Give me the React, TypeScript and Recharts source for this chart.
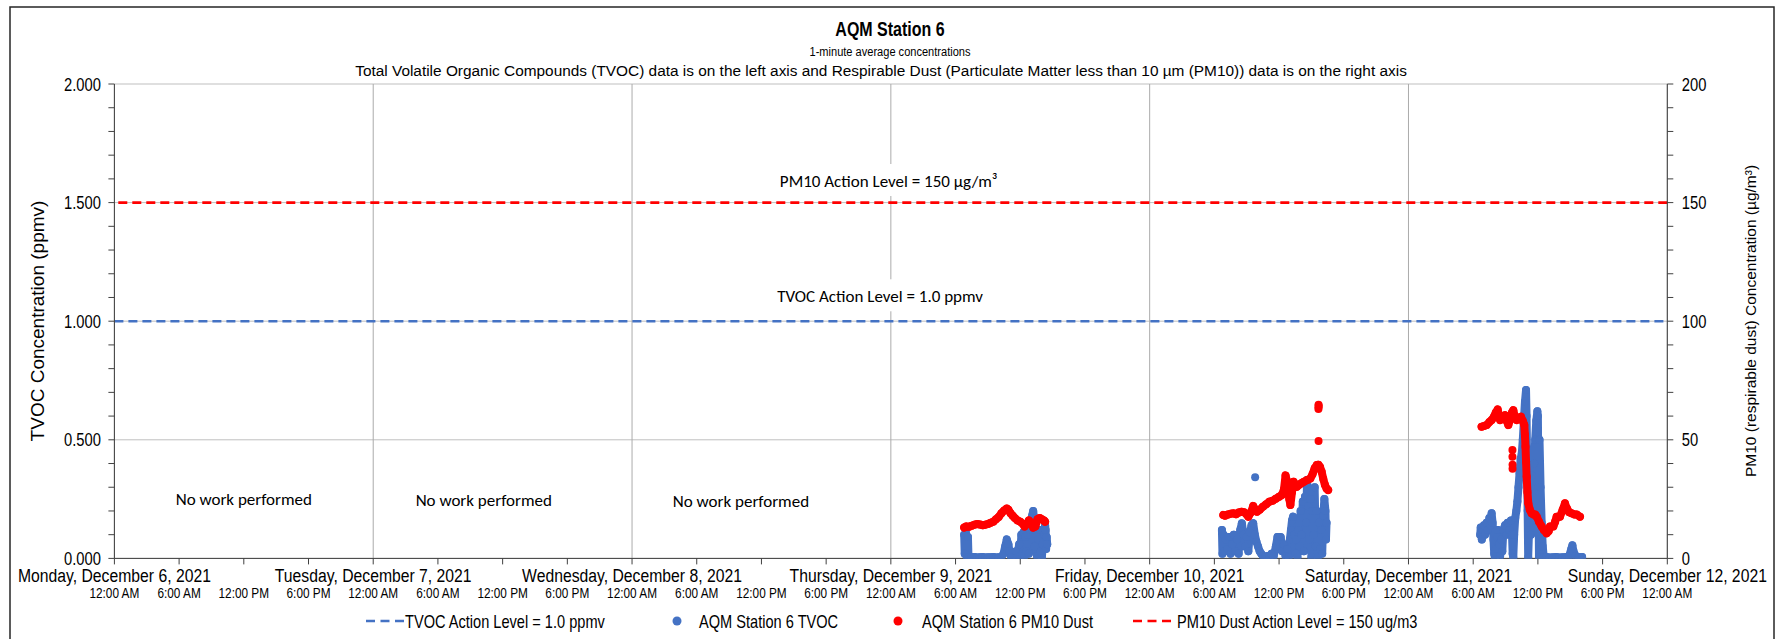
import React from "react";
import {
  CartesianGrid,
  ReferenceLine,
  Scatter,
  ScatterChart,
  XAxis,
  YAxis,
} from "recharts";

const W = 1776;
const H = 639;
const BLUE = "#4472C4";
const RED = "#FF0000";
const GRID_H = "#BFBFBF";
const GRID_V = "#ABABAB";
const AXIS = "#404040";
const FONT = "'Liberation Sans', Arial, sans-serif";
const NOTE_FONT = "Carlito, Calibri, Lato, sans-serif";
const NARROW = 0.82; // Arial Narrow look

// x axis: hours since Monday, December 6, 2021 12:00 AM
const hourTicks = [0, 6, 12, 18, 24, 30, 36, 42, 48, 54, 60, 66, 72, 78, 84, 90, 96, 102, 108, 114, 120, 126, 132, 138, 144];
const timeLabels = ["12:00 AM", "6:00 AM", "12:00 PM", "6:00 PM"];
const dayLabels = [
  "Monday, December 6, 2021",
  "Tuesday, December 7, 2021",
  "Wednesday, December 8, 2021",
  "Thursday, December 9, 2021",
  "Friday, December 10, 2021",
  "Saturday, December 11, 2021",
  "Sunday, December 12, 2021",
];
const dayGridLines = [24, 48, 72, 96, 120];

const tvocTicks = [0, 0.1, 0.2, 0.3, 0.4, 0.5, 0.6, 0.7, 0.8, 0.9, 1, 1.1, 1.2, 1.3, 1.4, 1.5, 1.6, 1.7, 1.8, 1.9, 2];
const pm10Ticks = [0, 10, 20, 30, 40, 50, 60, 70, 80, 90, 100, 110, 120, 130, 140, 150, 160, 170, 180, 190, 200];
const tvocGrid = [0, 0.5, 1, 1.5, 2];

const TVOC_ACTION = 1.0;
const PM10_ACTION = 150;

const THU = 72;
const FRI = 96;
const SAT = 120;

// [hour of day, value]
const thuTvoc: [number, number][] = [
  [6.8, 0.1], [6.85, 0.02], [6.95, 0.11], [7.05, 0.005], [7.15, 0.09], [7.2, 0.004],
  [7.5, 0.005], [7.75, 0.006], [8.0, 0.004], [8.25, 0.005], [8.5, 0.006], [8.75, 0.004],
  [9.0, 0.005], [9.25, 0.005], [9.5, 0.006], [9.75, 0.004], [10.0, 0.005], [10.25, 0.006],
  [10.45, 0.02], [10.6, 0.05], [10.75, 0.08], [10.9, 0.06], [11.0, 0.03], [11.15, 0.005],
  [11.4, 0.006], [11.6, 0.03], [11.7, 0.004], [11.9, 0.06], [12.0, 0.01], [12.1, 0.1],
  [12.2, 0.02], [12.3, 0.11], [12.4, 0.01], [12.5, 0.09], [12.6, 0.03], [12.7, 0.1],
  [12.8, 0.02], [12.9, 0.12], [13.0, 0.15], [13.1, 0.18], [13.2, 0.2], [13.3, 0.16],
  [13.35, 0.05], [13.45, 0.12], [13.55, 0.01], [13.7, 0.08], [13.8, 0.12], [13.9, 0.03],
  [14.0, 0.002], [14.1, 0.06], [14.2, 0.1], [14.3, 0.14], [14.35, 0.12], [14.4, 0.04],
  [14.45, 0.09], [14.5, 0.06],
];
const thuPm10: [number, number][] = [
  [6.8, 13], [7.0, 13.5], [7.25, 13.3], [7.5, 13.8], [7.75, 14.2], [8.0, 14.5], [8.25, 14.3],
  [8.5, 14.0], [8.75, 14.2], [9.0, 14.5], [9.25, 15.0], [9.5, 15.5], [9.75, 16.5], [10.0, 17.5],
  [10.25, 19], [10.5, 20.2], [10.75, 21], [10.9, 20.5], [11.1, 19], [11.3, 18], [11.5, 17],
  [11.75, 16], [12.0, 15.5], [12.25, 14.5], [12.4, 13.5], [12.6, 14.5], [12.8, 16], [13.0, 15],
  [13.2, 13], [13.4, 13.5], [13.6, 16.5], [13.8, 17], [14.0, 16.5], [14.2, 16], [14.3, 15.5],
];

const friTvoc: [number, number][] = [
  [6.7, 0.12], [6.75, 0.02], [6.85, 0.1], [6.95, 0.03], [7.05, 0.08], [7.2, 0.04], [7.35, 0.09],
  [7.5, 0.02], [7.65, 0.06], [7.8, 0.1], [7.95, 0.03], [8.1, 0.08], [8.25, 0.02], [8.4, 0.12],
  [8.55, 0.148], [8.7, 0.1], [8.85, 0.05], [9.0, 0.09], [9.15, 0.03], [9.3, 0.11], [9.45, 0.14],
  [9.6, 0.148], [9.75, 0.1], [9.9, 0.07], [10.05, 0.05], [10.2, 0.03], [10.35, 0.02], [10.5, 0.01],
  [10.7, 0.005], [10.9, 0.01], [11.1, 0.005], [11.3, 0.02], [11.5, 0.01], [11.7, 0.05], [11.85, 0.09],
  [12.0, 0.07], [12.15, 0.09], [12.3, 0.03], [12.45, 0.06], [12.6, 0.01], [12.75, 0.04], [12.9, 0.005],
  [13.0, 0.08], [13.1, 0.12], [13.2, 0.16], [13.3, 0.176], [13.4, 0.1], [13.5, 0.02], [13.6, 0.08],
  [13.7, 0.005], [13.8, 0.12], [13.9, 0.05], [14.0, 0.2], [14.1, 0.1], [14.2, 0.24], [14.3, 0.03],
  [14.4, 0.26], [14.5, 0.15], [14.6, 0.33], [14.7, 0.22], [14.8, 0.08], [14.9, 0.25], [15.0, 0.005],
  [15.1, 0.2], [15.2, 0.1], [15.3, 0.3], [15.4, 0.05], [15.5, 0.2], [15.6, 0.005], [15.7, 0.15],
  [15.8, 0.04], [15.9, 0.12], [16.0, 0.02], [16.1, 0.18], [16.2, 0.25], [16.3, 0.2], [16.35, 0.08],
  [16.4, 0.15],
];
const friTvocStray: [number, number][] = [[9.78, 0.342]];
const friPm10: [number, number][] = [
  [6.83, 18.3], [7.0, 18.0], [7.25, 18.5], [7.5, 18.8], [7.75, 19.0], [8.0, 18.6], [8.25, 19.3],
  [8.5, 19.7], [8.75, 19.5], [9.0, 18.5], [9.15, 17.6], [9.4, 19.5], [9.6, 22.1], [9.8, 20.5],
  [9.95, 19.7], [10.2, 20.5], [10.5, 21.8], [10.8, 22.8], [11.1, 23.9], [11.4, 24.3], [11.7, 25.2],
  [12.0, 26], [12.25, 26.7], [12.45, 29], [12.6, 35], [12.7, 33], [12.85, 28.8], [12.95, 25],
  [13.05, 22.5], [13.2, 28], [13.35, 32.3], [13.5, 31], [13.65, 30.2], [13.9, 31.2], [14.1, 31.8],
  [14.3, 32.3], [14.6, 33], [14.9, 33.7], [15.1, 35.5], [15.3, 38], [15.5, 39.4], [15.65, 39.5],
  [15.8, 38.5], [15.95, 36.5], [16.1, 33.5], [16.25, 31], [16.4, 29.5], [16.55, 28.8],
];
const friPm10Stray: [number, number][] = [
  [15.65, 63], [15.66, 63.7], [15.67, 64.4], [15.66, 64.8], [15.66, 49.5],
];

const satTvoc: [number, number][] = [
  [6.65, 0.1], [6.7, 0.13], [6.8, 0.08], [6.9, 0.12], [7.0, 0.14], [7.1, 0.1], [7.25, 0.15],
  [7.35, 0.12], [7.5, 0.17], [7.6, 0.14], [7.71, 0.19], [7.8, 0.15], [7.88, 0.08], [7.95, 0.02],
  [8.02, 0.0], [8.1, 0.04], [8.2, 0.09], [8.3, 0.12], [8.4, 0.06], [8.5, 0.01], [8.6, 0.08],
  [8.7, 0.03], [8.8, 0.12], [8.95, 0.14], [9.1, 0.1], [9.2, 0.15], [9.35, 0.12], [9.5, 0.16],
  [9.6, 0.1], [9.66, 0.02], [9.72, 0.005], [9.8, 0.1], [9.9, 0.17], [10.0, 0.2], [10.1, 0.24],
  [10.2, 0.3], [10.3, 0.36], [10.4, 0.42], [10.5, 0.44], [10.6, 0.5], [10.7, 0.58], [10.8, 0.66],
  [10.9, 0.71], [10.95, 0.6], [11.0, 0.4], [11.05, 0.2], [11.1, 0.005], [11.2, 0.15], [11.3, 0.3],
  [11.35, 0.1], [11.45, 0.35], [11.55, 0.2], [11.65, 0.4], [11.75, 0.5], [11.85, 0.58], [11.95, 0.62],
  [12.0, 0.6], [12.05, 0.3], [12.1, 0.005], [12.15, 0.5], [12.25, 0.3], [12.35, 0.15], [12.45, 0.05],
  [12.55, 0.005], [12.8, 0.006], [13.1, 0.004], [13.4, 0.005], [13.7, 0.006], [14.0, 0.004],
  [14.3, 0.005], [14.6, 0.006], [14.9, 0.01], [15.1, 0.04], [15.2, 0.055], [15.3, 0.03], [15.5, 0.01],
  [15.8, 0.005], [16.1, 0.006],
];
const satPm10: [number, number][] = [
  [6.78, 55.5], [7.0, 55.8], [7.25, 56.2], [7.5, 57.5], [7.71, 58.3], [7.9, 59.5], [8.1, 61.5],
  [8.27, 62.8], [8.4, 60], [8.5, 58.3], [8.7, 59.5], [8.95, 60.4], [9.1, 58], [9.26, 56.2],
  [9.45, 59], [9.6, 61.5], [9.72, 62.5], [9.85, 60], [10.03, 58.3], [10.2, 59], [10.43, 59.7],
  [10.6, 58], [10.74, 56.2], [10.8, 52], [10.85, 47.1], [10.9, 41], [10.96, 34.4], [11.03, 28],
  [11.11, 23.2], [11.25, 20.5], [11.42, 19.0], [11.6, 18.5], [11.75, 18.5], [11.89, 17.6],
  [12.1, 15.5], [12.35, 13.4], [12.55, 12], [12.81, 10.6], [13.0, 11.5], [13.12, 13.4],
  [13.43, 13.4], [13.6, 15.5], [13.74, 17.6], [13.9, 17.6], [14.05, 17.6], [14.3, 20.5],
  [14.51, 23.2], [14.7, 21], [14.9, 19.5], [15.13, 19.0], [15.4, 18.5], [15.6, 18.5], [15.9, 17.6],
];
const satPm10Stray: [number, number][] = [
  [9.64, 45.7], [9.64, 42.9], [9.65, 39.5], [9.65, 37.8],
];

// annotations
const noWorkHours = [12, 34.25, 58.1];
const noWorkLevels = [0.248, 0.244, 0.239];
const pm10NoteHour = 71.8;
const pm10NoteLevel = 159.1;
const tvocNoteHour = 71.0;
const tvocNoteLevel = 1.105;

const pts = (offset: number, rows: [number, number][]) =>
  rows.map(([h, v]) => ({ x: offset + h, y: v }));

const isMajor = (v: number, step: number) =>
  Math.abs(v / step - Math.round(v / step)) < 1e-6;

function NText({
  x,
  y,
  size,
  anchor = "middle",
  weight = "normal",
  scale = NARROW,
  children,
}: {
  x: number;
  y: number;
  size: number;
  anchor?: "start" | "middle" | "end";
  weight?: string;
  scale?: number;
  children: React.ReactNode;
}) {
  return (
    <text
      transform={`translate(${x},${y}) scale(${scale},1)`}
      textAnchor={anchor}
      dominantBaseline="central"
      fontFamily={FONT}
      fontSize={size}
      fontWeight={weight}
      fill="#000"
    >
      {children}
    </text>
  );
}

function TimeTick(props: any) {
  const { x, y, payload } = props;
  const v = payload.value as number;
  const label = timeLabels[Math.round(v / 6) % 4];
  const day = isMajor(v, 24) ? dayLabels[Math.round(v / 24)] : null;
  return (
    <g>
      {day ? (
        <NText x={x} y={y + 8.6} size={19.2}>
          {day}
        </NText>
      ) : null}
      <NText x={x} y={y + 27} size={14.4}>
        {label}
      </NText>
    </g>
  );
}

function LeftTick(props: any) {
  const { x, y, payload } = props;
  const v = payload.value as number;
  if (!isMajor(v, 0.5)) return null;
  return (
    <NText x={x - 5.5} y={y} size={18} anchor="end">
      {v.toFixed(3)}
    </NText>
  );
}

function RightTick(props: any) {
  const { x, y, payload } = props;
  const v = payload.value as number;
  if (!isMajor(v, 50)) return null;
  return (
    <NText x={x + 6.5} y={y} size={18} anchor="start">
      {String(v)}
    </NText>
  );
}

const dot = (color: string) => (p: any) => <circle cx={p.cx} cy={p.cy} r={4} fill={color} />;

const track = (color: string) => ({
  stroke: color,
  strokeWidth: 8,
  strokeLinecap: "round",
  strokeLinejoin: "round",
});

const noteShape = (p: any) => (
  <text
    x={p.cx}
    y={p.cy}
    textAnchor="middle"
    dominantBaseline="central"
    fontFamily={NOTE_FONT}
    fontSize={17}
    fill="#000"
  >
    No work performed
  </text>
);

const boxedNote = (text: string, boxW: number) => (p: any) => (
  <g>
    <rect x={p.cx - boxW / 2} y={p.cy - 17} width={boxW} height={32} fill="#fff" />
    <text
      x={p.cx}
      y={p.cy}
      textAnchor="middle"
      dominantBaseline="central"
      fontFamily={NOTE_FONT}
      fontSize={17}
      fill="#000"
    >
      {text}
    </text>
  </g>
);

export default function App() {
  const noWork = noWorkHours.map((h, i) => ({ x: h, y: noWorkLevels[i] }));
  return (
    <div
      style={{
        position: "fixed",
        left: 0,
        top: 0,
        width: W,
        height: H,
        overflow: "hidden",
        background: "#fff",
      }}
    >
      <ScatterChart width={W} height={H} margin={{ top: 84, right: 0, bottom: 0, left: 0 }}>
        <XAxis
          type="number"
          dataKey="x"
          domain={[0, 144]}
          ticks={hourTicks}
          interval={0}
          allowDataOverflow
          height={80.6}
          stroke={AXIS}
          tickSize={6}
          tick={<TimeTick />}
        />
        <YAxis
          yAxisId="left"
          type="number"
          dataKey="y"
          domain={[0, 2]}
          ticks={tvocTicks}
          interval={0}
          allowDataOverflow
          width={114.4}
          stroke={AXIS}
          tickSize={6}
          tick={<LeftTick />}
        />
        <YAxis
          yAxisId="right"
          orientation="right"
          type="number"
          dataKey="y"
          domain={[0, 200]}
          ticks={pm10Ticks}
          interval={0}
          allowDataOverflow
          width={108.7}
          stroke={AXIS}
          tickSize={6}
          tick={<RightTick />}
        />
        <XAxis xAxisId="grid" type="number" dataKey="x" domain={[0, 144]} ticks={dayGridLines} allowDataOverflow height={0} hide />
        <YAxis yAxisId="grid" type="number" dataKey="y" domain={[0, 2]} ticks={tvocGrid} allowDataOverflow width={0} hide />
        <CartesianGrid xAxisId="grid" yAxisId="grid" vertical={false} stroke={GRID_H} strokeWidth={1} />
        <CartesianGrid xAxisId="grid" yAxisId="grid" horizontal={false} stroke={GRID_V} strokeWidth={1} />
        <ReferenceLine yAxisId="left" y={TVOC_ACTION} stroke={BLUE} strokeWidth={2.6} strokeDasharray="9 5" />
        <ReferenceLine yAxisId="right" y={PM10_ACTION} stroke={RED} strokeWidth={2.6} strokeDasharray="9 5" />

        <Scatter yAxisId="left" data={pts(THU, thuTvoc)} line={track(BLUE)} shape={dot(BLUE)} isAnimationActive={false} />
        <Scatter yAxisId="left" data={pts(FRI, friTvoc)} line={track(BLUE)} shape={dot(BLUE)} isAnimationActive={false} />
        <Scatter yAxisId="left" data={pts(FRI, friTvocStray)} shape={dot(BLUE)} isAnimationActive={false} />
        <Scatter yAxisId="left" data={pts(SAT, satTvoc)} line={track(BLUE)} shape={dot(BLUE)} isAnimationActive={false} />

        <Scatter yAxisId="right" data={pts(THU, thuPm10)} line={track(RED)} shape={dot(RED)} isAnimationActive={false} />
        <Scatter yAxisId="right" data={pts(FRI, friPm10)} line={track(RED)} shape={dot(RED)} isAnimationActive={false} />
        <Scatter yAxisId="right" data={pts(FRI, friPm10Stray)} shape={dot(RED)} isAnimationActive={false} />
        <Scatter yAxisId="right" data={pts(SAT, satPm10)} line={track(RED)} shape={dot(RED)} isAnimationActive={false} />
        <Scatter yAxisId="right" data={pts(SAT, satPm10Stray)} shape={dot(RED)} isAnimationActive={false} />

        <Scatter yAxisId="left" data={noWork} shape={noteShape} isAnimationActive={false} />
        <Scatter
          yAxisId="right"
          data={[{ x: pm10NoteHour, y: pm10NoteLevel }]}
          shape={boxedNote("PM10 Action Level = 150 µg/m³", 236)}
          isAnimationActive={false}
        />
        <Scatter
          yAxisId="left"
          data={[{ x: tvocNoteHour, y: tvocNoteLevel }]}
          shape={boxedNote("TVOC Action Level = 1.0 ppmv", 222)}
          isAnimationActive={false}
        />
      </ScatterChart>

      <svg
        width={W}
        height={H}
        style={{ position: "absolute", left: 0, top: 0, pointerEvents: "none" }}
      >
        <rect x={10} y={7} width={1764} height={700} fill="none" stroke="#262626" strokeWidth={1.5} />
        <NText x={890} y={29.5} size={19.5} weight="bold">
          AQM Station 6
        </NText>
        <NText x={890} y={52} size={13.5}>
          1-minute average concentrations
        </NText>
        <NText x={881} y={70} size={15.4} scale={1}>
          Total Volatile Organic Compounds (TVOC) data is on the left axis and Respirable Dust (Particulate Matter less than 10 µm (PM10)) data is on the right axis
        </NText>
        <text
          transform="translate(37.4,321) rotate(-90)"
          textAnchor="middle"
          dominantBaseline="central"
          fontFamily={FONT}
          fontSize={19}
        >
          TVOC Concentration (ppmv)
        </text>
        <text
          transform="translate(1750,321) rotate(-90)"
          textAnchor="middle"
          dominantBaseline="central"
          fontFamily={FONT}
          fontSize={15.5}
        >
          PM10 (respirable dust) Concentration (µg/m³)
        </text>

        <line x1={366} x2={404} y1={621} y2={621} stroke={BLUE} strokeWidth={2.6} strokeDasharray="9 5.5" />
        <NText x={405} y={621} size={17.8} anchor="start">
          TVOC Action Level = 1.0 ppmv
        </NText>
        <circle cx={677} cy={621} r={4.5} fill={BLUE} />
        <NText x={699} y={621} size={17.8} anchor="start">
          AQM Station 6 TVOC
        </NText>
        <circle cx={898} cy={621} r={4.5} fill={RED} />
        <NText x={922} y={621} size={17.8} anchor="start">
          AQM Station 6 PM10 Dust
        </NText>
        <line x1={1133} x2={1175} y1={621} y2={621} stroke={RED} strokeWidth={2.6} strokeDasharray="9 5.5" />
        <NText x={1177} y={621} size={17.8} anchor="start">
          PM10 Dust Action Level = 150 ug/m3
        </NText>
      </svg>
    </div>
  );
}
